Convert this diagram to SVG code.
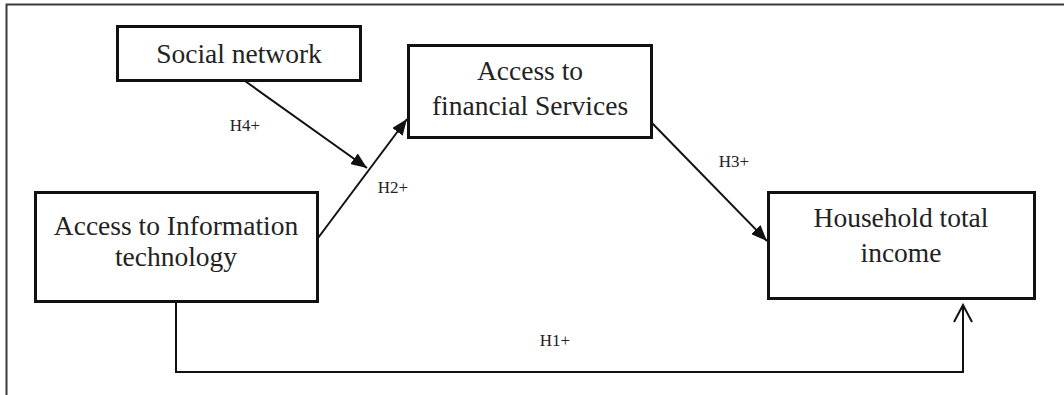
<svg xmlns="http://www.w3.org/2000/svg" width="1064" height="395" viewBox="0 0 1064 395">
  <style>
    .box { fill: #fff; stroke: #111; stroke-width: 3; }
    .t { font-family: "Liberation Serif", "Times New Roman", serif; font-size: 27.5px; fill: #222; text-anchor: middle; }
    .lbl { font-family: "Liberation Serif", "Times New Roman", serif; font-size: 17px; fill: #222; text-anchor: middle; }
    .conn { fill: none; stroke: #111; stroke-width: 2; }
  </style>
  <defs>
    <marker id="fill" markerUnits="userSpaceOnUse" markerWidth="17" markerHeight="13" refX="16" refY="6.5" orient="auto">
      <path d="M0,0 L16,6.5 L0,13 Z" fill="#111"/>
    </marker>
    <marker id="open" markerUnits="userSpaceOnUse" markerWidth="20" markerHeight="22" refX="18" refY="10" orient="auto">
      <path d="M1,1 L18,10 L1,19" fill="none" stroke="#111" stroke-width="2"/>
    </marker>
  </defs>
  <rect width="1064" height="395" fill="#fff"/>
  <path d="M6.5,395 V4.5 H1064" fill="none" stroke="#3a3a3a" stroke-width="2"/>

  <g id="connectors">
    <line class="conn" x1="245" y1="81" x2="367" y2="168" marker-end="url(#fill)"/>
    <line class="conn" x1="318" y1="238" x2="407" y2="119" marker-end="url(#fill)"/>
    <line class="conn" x1="652" y1="123" x2="767" y2="241" marker-end="url(#fill)"/>
    <path class="conn" d="M176,302 V372 H963 V305" marker-end="url(#open)"/>
    <text class="lbl" x="245" y="131">H4+</text>
    <text class="lbl" x="393" y="193">H2+</text>
    <text class="lbl" x="734" y="167">H3+</text>
    <text class="lbl" x="555" y="346">H1+</text>
  </g>

  <g id="social-network">
    <rect class="box" x="117.5" y="26.5" width="243" height="54"/>
    <text class="t" x="239" y="63">Social network</text>
  </g>
  <g id="financial-services">
    <rect class="box" x="408.5" y="45.5" width="243" height="92"/>
    <text class="t" x="530" y="80">Access to</text>
    <text class="t" x="530" y="115">financial Services</text>
  </g>
  <g id="information-technology">
    <rect class="box" x="35.5" y="192.5" width="282" height="109"/>
    <text class="t" x="176" y="235">Access to Information</text>
    <text class="t" x="176" y="266">technology</text>
  </g>
  <g id="household-income">
    <rect class="box" x="768.5" y="192.5" width="266" height="106"/>
    <text class="t" x="901" y="227">Household total</text>
    <text class="t" x="901" y="262">income</text>
  </g>
</svg>
